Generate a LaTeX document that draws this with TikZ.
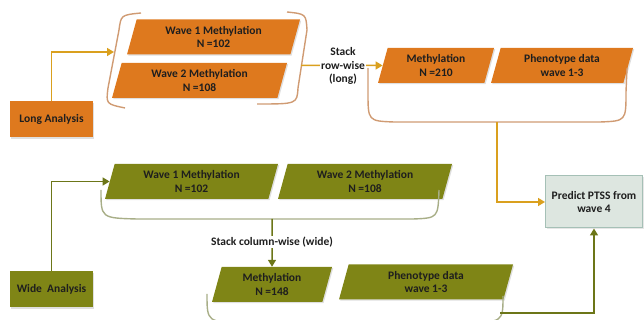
\documentclass[tikz,border=0pt]{standalone}
\usepackage{fontspec}
\setmainfont{Carlito}
\usetikzlibrary{positioning,shapes.geometric,arrows.meta,shadows}
\definecolor{longfill}{RGB}{222,121,30}
\definecolor{widefill}{RGB}{127,133,22}
\definecolor{longline}{RGB}{218,160,30}
\definecolor{wideline}{RGB}{108,118,24}
\definecolor{longbrk}{RGB}{208,155,115}
\definecolor{widebrk}{RGB}{168,174,135}
\definecolor{predfill}{RGB}{221,230,224}
\definecolor{preddraw}{RGB}{165,192,182}
\definecolor{textdark}{RGB}{30,30,30}

\begin{document}
\begin{tikzpicture}[x=1pt,y=1pt,
  every node/.style={font=\fontsize{11.5}{13.5}\selectfont\bfseries, text=textdark, align=center},
  para/.style={trapezium, trapezium left angle=66, trapezium right angle=114,
    trapezium stretches body, minimum height=35pt, inner sep=0pt,
    drop shadow={shadow xshift=1.2pt, shadow yshift=-1.2pt, opacity=.25}},
  longpara/.style={para, fill=longfill},
  widepara/.style={para, fill=widefill},
  startbox/.style={rectangle, minimum width=83pt, minimum height=36pt, inner sep=0pt,
    drop shadow={shadow xshift=1.2pt, shadow yshift=-1.2pt, opacity=.25}},
  longarrow/.style={draw=longline, line width=1.5pt, -{Triangle[length=7pt,width=8pt]}},
  widearrow/.style={draw=wideline, line width=1.5pt, -{Triangle[length=7pt,width=8pt]}},
  longbracket/.style={draw=longbrk, line width=1.4pt},
  widebracket/.style={draw=widebrk, line width=1.4pt}]
  \useasboundingbox (0,0) rectangle (644,320);

  \node[startbox, fill=longfill] (longBox) at (51.5,200.5) {Long Analysis};
  \node[startbox, fill=widefill] (wideBox) at (51.5,30.5) {Wide\ \ Analysis};
  \node[rectangle, fill=predfill, draw=preddraw, line width=1pt, minimum width=97pt,
    minimum height=52pt, drop shadow={shadow xshift=1.2pt, shadow yshift=-1.2pt, opacity=.2}]
    (predict) at (594,118) {Predict PTSS from\\wave 4};

  \node[longpara, minimum width=173pt] (wave1Long) at (213.5,283) {Wave 1 Methylation\\N =102};
  \node[longpara, minimum width=175pt] (wave2Long) at (199.5,239.5) {Wave 2 Methylation\\N =108};
  \node[longpara, minimum width=116pt] (methLong) at (436,254.5) {Methylation\\N =210};
  \node[longpara, minimum width=142pt] (phenoLong) at (562,254.5) {Phenotype data\\wave 1-3};

  \node[widepara, minimum width=173pt] (wave1Wide) at (191.5,138.5) {Wave 1 Methylation\\N =102};
  \node[widepara, minimum width=174pt] (wave2Wide) at (365,138.5) {Wave 2 Methylation\\N =108};
  \node[widepara, minimum width=120pt] (methWide) at (272,35.5) {Methylation\\N =148};
  \node[widepara, minimum width=174pt] (phenoWide) at (426,38) {Phenotype data\\wave 1-3};

  \draw[longbracket] (141,307) .. controls (121,305) .. (119,290) -- (108,232)
    .. controls (106,216) .. (125,212);
  \draw[longbracket] (287,308) .. controls (306,306) .. (307,290) -- (298,232)
    .. controls (297,216) .. (257,216);
  \draw[longbracket] (368,252) -- (368,228) .. controls (368,199) .. (394,198) -- (600,198)
    .. controls (626,199) .. (626,228) -- (627,252);
  \draw[widebracket] (101,130) .. controls (101,102) .. (137,101) -- (413,101)
    .. controls (438,102) .. (439,130);
  \draw[widebracket] (207,26) .. controls (207,-2) .. (245,-3) -- (465,-3)
    .. controls (503,-2) .. (503,24);

  \coordinate (leftParen) at (114,268);
  \coordinate (rightParen) at (301,254.5);
  \coordinate (longBrace) at (497,198);
  \coordinate (wideTop) at (272,101);
  \coordinate (wideBottom) at (500,7);

  \draw[longarrow] (longBox.north) |- (leftParen);
  \draw[longarrow] (rightParen) -- (methLong.west);
  \node[fill=white, inner sep=1pt] (rowLabel) at (343,254) {Stack\\row-wise\\(long)};
  \draw[longarrow] (longBrace) |- (predict.west);

  \draw[widearrow] (wideBox.north) |- (wave1Wide.west);
  \draw[widearrow] (wideTop) -- (methWide.north);
  \node[fill=white, inner sep=1pt] (colLabel) at (272,78) {Stack column-wise (wide)};
  \draw[widearrow] (wideBottom) -| (predict.south);
\end{tikzpicture}
\end{document}
